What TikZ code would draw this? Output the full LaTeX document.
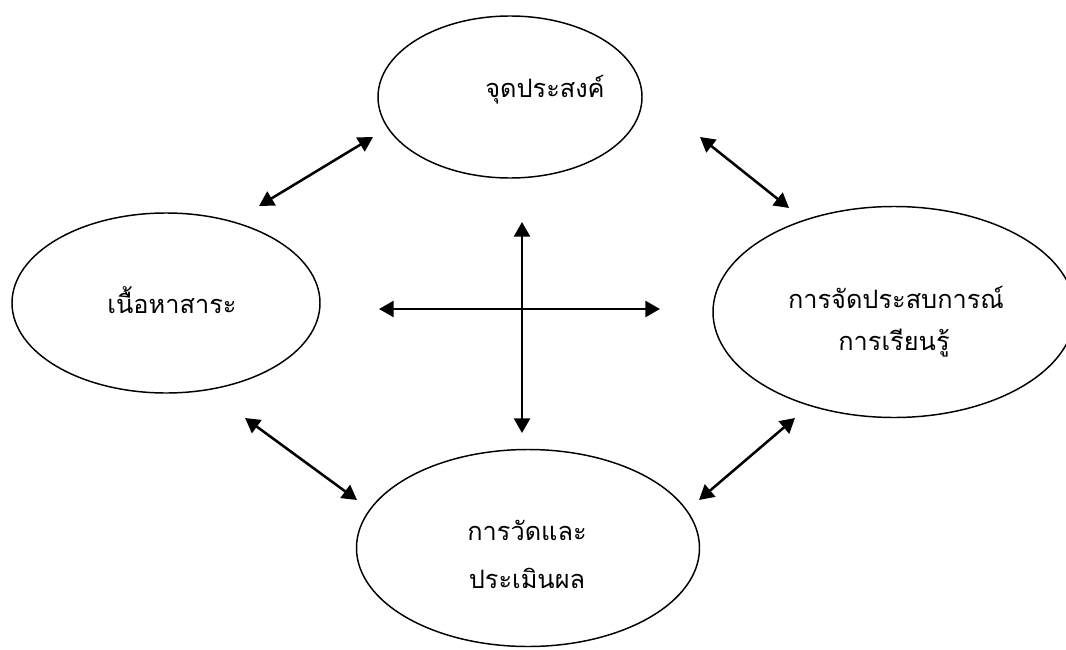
\documentclass[tikz,border=0pt]{standalone}
\usepackage{fontspec}
\newfontfamily\thaifont[Script=Thai]{Loma}
\usetikzlibrary{shapes.geometric,arrows.meta}
\begin{document}
\begin{tikzpicture}[x=0.75pt,y=-0.75pt,
  oval/.style={draw,ellipse,line width=1.1pt,inner sep=0pt},
  lbl/.style={font=\thaifont\fontsize{19pt}{23pt}\selectfont,inner sep=0pt,anchor=center},
  dbl/.style={line width=1.9pt,{Triangle[length=11pt,width=12pt]}-{Triangle[length=11pt,width=12pt]}}]
\useasboundingbox (0,0) rectangle (1066,649);
\node[oval,minimum width=198pt,minimum height=121.5pt] (top) at (510,97) {};
\node[oval,minimum width=231pt,minimum height=135pt] (left) at (166,303) {};
\node[oval,minimum width=271.5pt,minimum height=158.25pt] (right) at (894,312) {};
\node[oval,minimum width=257.25pt,minimum height=147.75pt] (bottom) at (528,548) {};
\node[lbl] (ttop) at (545,90) {จุดประสงค์};
\node[lbl] (tleft) at (172,300) {เนื้อหาสาระ};
\node[lbl] (tright1) at (896,297) {การจัดประสบการณ์};
\node[lbl] (tright2) at (894,343) {การเรียนรู้};
\node[lbl] (tbot1) at (527,530) {การวัดและ};
\node[lbl] (tbot2) at (527,578) {ประเมินผล};
\coordinate (v1) at (522,222);
\coordinate (v2) at (522,433);
\coordinate (h1) at (379,309);
\coordinate (h2) at (660,309);
\coordinate (a1) at (259,206);
\coordinate (a2) at (373,137);
\coordinate (b1) at (245,418);
\coordinate (b2) at (357,500);
\coordinate (c1) at (700,137);
\coordinate (c2) at (789,208);
\coordinate (d1) at (795,418);
\coordinate (d2) at (699,500);
\draw[dbl] (v1) -- (v2);
\draw[dbl] (h1) -- (h2);
\draw[dbl] (a1) -- (a2);
\draw[dbl] (b1) -- (b2);
\draw[dbl] (c1) -- (c2);
\draw[dbl] (d1) -- (d2);
\end{tikzpicture}
\end{document}
